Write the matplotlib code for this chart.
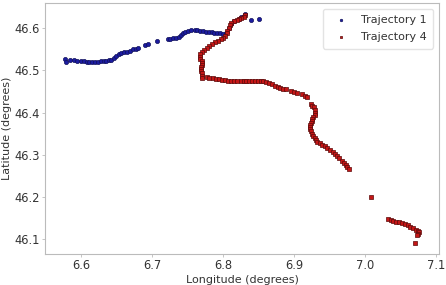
import numpy as np
import matplotlib
matplotlib.use("Agg")
import matplotlib.pyplot as plt

# trajectory 1 (lon, lat)
traj1_lon = [6.578, 6.579, 6.585, 6.590, 6.595, 6.600, 6.604, 6.608, 6.612, 6.616,
             6.620, 6.624, 6.628, 6.632, 6.636, 6.640, 6.643, 6.646, 6.649, 6.653,
             6.657, 6.661, 6.665, 6.669, 6.673, 6.677, 6.681, 6.690, 6.694, 6.707,
             6.722, 6.726, 6.730, 6.734, 6.738, 6.741, 6.744, 6.747, 6.751, 6.755,
             6.760, 6.764, 6.768, 6.772, 6.776, 6.780, 6.784, 6.788, 6.792, 6.796,
             6.800, 6.804, 6.808, 6.812, 6.816, 6.822, 6.826, 6.829, 6.831, 6.840,
             6.851]
traj1_lat = [46.527, 46.520, 46.524, 46.524, 46.523, 46.523, 46.522, 46.521, 46.520, 46.520,
             46.521, 46.521, 46.522, 46.522, 46.523, 46.524, 46.526, 46.530, 46.535, 46.538,
             46.541, 46.543, 46.545, 46.547, 46.550, 46.552, 46.553, 46.560, 46.563, 46.570,
             46.575, 46.575, 46.576, 46.578, 46.580, 46.584, 46.588, 46.591, 46.594, 46.595,
             46.597, 46.596, 46.594, 46.593, 46.592, 46.592, 46.591, 46.590, 46.589, 46.588,
             46.586, 46.590, 46.600, 46.610, 46.618, 46.622, 46.626, 46.630, 46.633, 46.620,
             46.623]

# trajectory 4
traj4_lon = [6.831, 6.829, 6.826, 6.823, 6.820, 6.816, 6.812, 6.810, 6.808, 6.806,
             6.805, 6.803, 6.800, 6.797, 6.793, 6.789, 6.785, 6.781, 6.777, 6.773,
             6.770, 6.768, 6.767, 6.768, 6.770, 6.771, 6.770, 6.769, 6.769, 6.769,
             6.770, 6.770, 6.770, 6.777, 6.781, 6.786, 6.790, 6.794, 6.798, 6.803,
             6.807, 6.812, 6.816, 6.820, 6.825, 6.829, 6.833, 6.837, 6.841, 6.845,
             6.849, 6.853, 6.857, 6.861, 6.865, 6.869, 6.873, 6.877, 6.881, 6.885,
             6.889, 6.896, 6.900, 6.904, 6.911, 6.915, 6.919, 6.924, 6.926, 6.928,
             6.929, 6.930, 6.929, 6.927, 6.926, 6.925, 6.924, 6.923, 6.923, 6.923,
             6.924, 6.925, 6.927, 6.929, 6.931, 6.933, 6.936, 6.939, 6.943, 6.947,
             6.951, 6.955, 6.958, 6.961, 6.964, 6.967, 6.970, 6.973, 6.975, 6.977,
             7.009, 7.033, 7.036, 7.040, 7.044, 7.048, 7.052, 7.056, 7.060, 7.064,
             7.068, 7.072, 7.075, 7.076, 7.075, 7.073, 7.070]
traj4_lat = [46.631, 46.628, 46.625, 46.622, 46.620, 46.617, 46.612, 46.607, 46.600, 46.594,
             46.588, 46.583, 46.578, 46.575, 46.571, 46.567, 46.563, 46.558, 46.553, 46.548,
             46.543, 46.538, 46.533, 46.528, 46.523, 46.518, 46.513, 46.508, 46.503, 46.498,
             46.493, 46.488, 46.481, 46.484, 46.483, 46.481, 46.480, 46.479, 46.478, 46.477,
             46.476, 46.476, 46.476, 46.476, 46.476, 46.476, 46.476, 46.476, 46.476, 46.476,
             46.476, 46.475, 46.474, 46.472, 46.470, 46.467, 46.464, 46.461, 46.459, 46.457,
             46.455, 46.451, 46.449, 46.447, 46.443, 46.440, 46.437, 46.420, 46.416, 46.412,
             46.406, 46.400, 46.395, 46.390, 46.385, 46.380, 46.375, 46.370, 46.365, 46.360,
             46.355, 46.350, 46.345, 46.340, 46.335, 46.331, 46.327, 46.324, 46.320, 46.316,
             46.312, 46.306, 46.301, 46.296, 46.291, 46.286, 46.281, 46.276, 46.271, 46.266,
             46.200, 46.148, 46.145, 46.143, 46.141, 46.139, 46.137, 46.134, 46.132, 46.129,
             46.126, 46.122, 46.119, 46.115, 46.111, 46.110, 46.090]

fig, ax = plt.subplots(figsize=(4.46, 2.85), dpi=100)
fig.subplots_adjust(left=0.101, right=0.984, top=0.989, bottom=0.109)

ax.scatter(traj1_lon, traj1_lat, s=9, marker='o', c='#1c1ca0',
           edgecolors='#10105a', linewidths=0.5, label='Trajectory 1')
ax.scatter(traj4_lon, traj4_lat, s=11, marker='s', c='#c41616',
           edgecolors='#5a0a0a', linewidths=0.5, label='Trajectory 4')

ax.set_xlim(6.5495, 7.104)
ax.set_ylim(46.064, 46.66)
ax.set_xticks([6.6, 6.7, 6.8, 6.9, 7.0, 7.1])
ax.set_yticks([46.1, 46.2, 46.3, 46.4, 46.5, 46.6])
ax.tick_params(length=2, width=0.6, color='#bbbbbb', labelsize=8.3,
               labelcolor='#333333', pad=1.5)
for sp in ax.spines.values():
    sp.set_color('#bbbbbb')
ax.set_xlabel('Longitude (degrees)', fontsize=8, color='#333333', labelpad=2)
ax.set_ylabel('Latitude (degrees)', fontsize=8, color='#333333', labelpad=2)

leg = ax.legend(loc='upper right', fontsize=8, markerscale=0.6,
                handletextpad=0.8, borderpad=0.6, labelspacing=0.6)
leg.get_frame().set_edgecolor('#dddddd')
for t in leg.get_texts():
    t.set_color('#333333')

plt.savefig('out.png')
